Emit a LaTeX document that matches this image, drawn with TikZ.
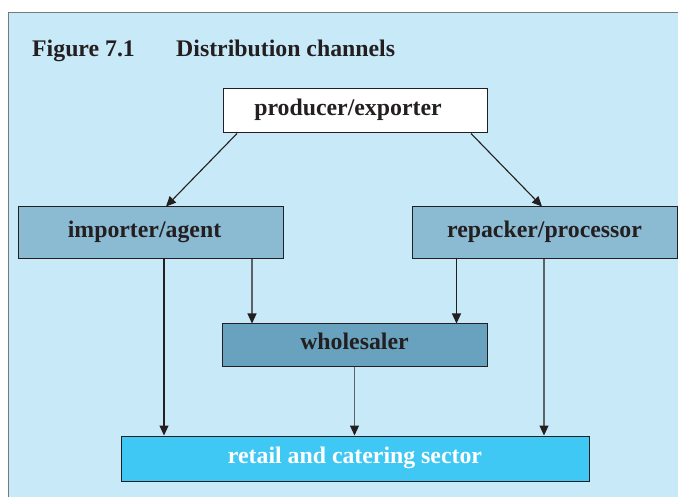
\documentclass[tikz,border=0pt]{standalone}
\usepackage{fontspec}
\setmainfont{Liberation Serif}
\usetikzlibrary{arrows.meta}
\definecolor{panelbg}{HTML}{C8E9F8}
\definecolor{panelline}{HTML}{7A7A7A}
\definecolor{midblue}{HTML}{8BBAD3}
\definecolor{darkblue}{HTML}{68A2BE}
\definecolor{brightblue}{HTML}{40C8F4}
\definecolor{ink}{HTML}{231F20}
\definecolor{greyline}{HTML}{5E6266}
\tikzset{
  boxfont/.style={font=\fontsize{23.8}{26}\selectfont\bfseries},
  box/.style={draw=ink, line width=1pt, inner sep=0pt, text=ink, boxfont,
    text height=15pt, text depth=6pt},
  boxlabel/.style={inner sep=0pt, text=ink, boxfont, text height=15pt, text depth=6pt},
  conn/.style={line width=1.1pt, draw=ink, -{Triangle[length=10pt,width=9pt,color=ink]}},
  conng/.style={conn, draw=greyline},
  titletext/.style={font=\fontsize{23.8}{26}\selectfont\bfseries, text=ink, anchor=base west, inner sep=0pt}
}
\begin{document}
\begin{tikzpicture}[x=1pt,y=-1pt]
\useasboundingbox (0,0) rectangle (678,497);
\fill[white] (0,0) rectangle (678,497);
\fill[panelbg] (8.5,12.5) rectangle (678,497);
\draw[panelline, line width=1.5pt] (8.5,497) -- (8.5,12.5) -- (678,12.5);
\node[titletext] (fig) at (32,57) {Figure 7.1};
\node[titletext] (ttl) at (176,57) {Distribution channels};

\node[box, fill=white, minimum width=264pt, minimum height=44pt] (prod) at (355,111) {};
\node[boxlabel] (prodt) at (348,111) {producer/exporter};
\node[box, fill=midblue, minimum width=265pt, minimum height=52pt] (imp) at (150.5,233) {};
\node[boxlabel] (impt) at (144.5,233) {importer/agent};
\node[box, fill=midblue, minimum width=265pt, minimum height=52pt] (rep) at (544.5,233) {repacker/processor};
\node[box, fill=darkblue, minimum width=265pt, minimum height=42pt] (whl) at (354.5,345) {wholesaler};
\node[box, fill=brightblue, text=white, minimum width=468pt, minimum height=45pt] (ret) at (355,458.5) {retail and catering sector};

\draw[conn] (prod.south -| 237,0) -- (imp.north -| 166,0);
\draw[conn] (prod.south -| 471,0) -- (rep.north -| 542,0);
\draw[conn] (imp.south -| 164,0) -- (ret.north -| 164,0);
\draw[conng] (imp.south -| 252,0) -- (whl.north -| 252,0);
\draw[conn] (rep.south -| 456.5,0) -- (whl.north -| 456.5,0);
\draw[conng] (rep.south -| 544,0) -- (ret.north -| 544,0);
\draw[conng] (whl.south) -- (ret.north -| whl.south);
\end{tikzpicture}
\end{document}
